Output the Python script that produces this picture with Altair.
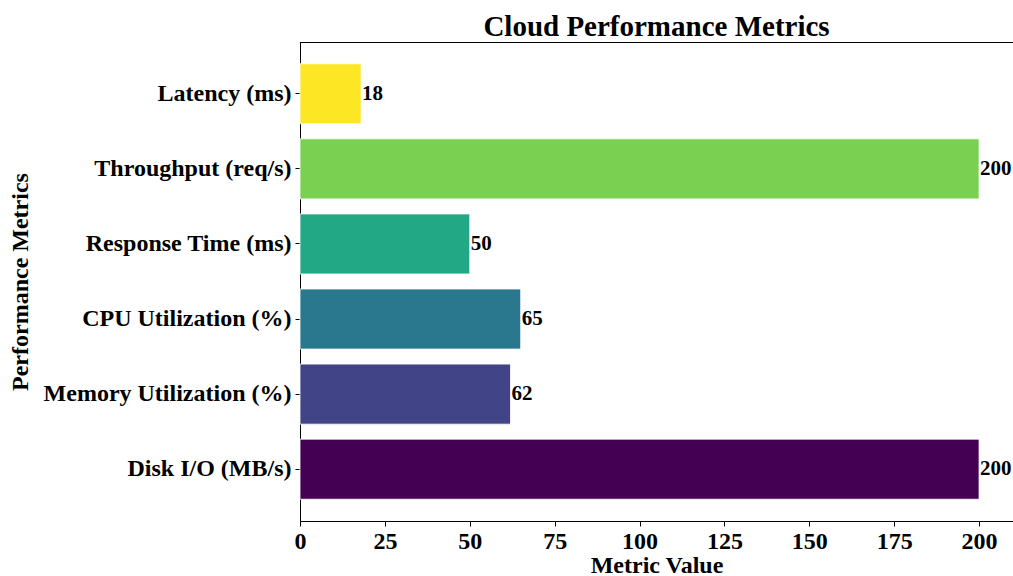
import altair as alt
import pandas as pd

metrics = ["Latency (ms)", "Throughput (req/s)", "Response Time (ms)",
           "CPU Utilization (%)", "Memory Utilization (%)", "Disk I/O (MB/s)"]
values = [18, 200, 50, 65, 62, 200]
colors = ["#fde725", "#7ad151", "#22a884", "#2a788e", "#414487", "#440154"]
x_ticks = [0, 25, 50, 75, 100, 125, 150, 175, 200]

df = pd.DataFrame({"metric": metrics, "value": values, "color": colors})

FONT = "Liberation Serif"
W, H = 713, 479

y_enc = alt.Y("metric:N", sort=metrics, title="Performance Metrics",
              scale=alt.Scale(paddingInner=0.2, paddingOuter=0.29),
              axis=alt.Axis(labelFontSize=24, labelFont=FONT, labelFontWeight="bold",
                            labelColor="black", titleFontSize=24, titleFont=FONT,
                            titleFontWeight="bold", titleColor="black",
                            titleX=-268, titleBaseline="bottom",
                            tickSize=5, tickColor="black", domainColor="black",
                            labelPadding=4, labelLimit=400))
x_enc = alt.X("value:Q", title="Metric Value",
              scale=alt.Scale(domain=[0, 210], nice=False, zero=True),
              axis=alt.Axis(values=x_ticks, labelFontSize=24, labelFont=FONT,
                            labelFontWeight="bold", labelColor="black",
                            titleFontSize=24, titleFont=FONT, titleFontWeight="bold",
                            titleColor="black", titleY=51, titleBaseline="alphabetic",
                            tickSize=5, tickColor="black",
                            domainColor="black", grid=False, labelPadding=3,
                            labelFlush=False))

bars = alt.Chart(df).mark_bar(stroke="white", strokeWidth=0.8).encode(
    y=y_enc, x=x_enc, color=alt.Color("color:N", scale=None)
)

labels = alt.Chart(df).mark_text(align="left", baseline="middle", dx=1,
                                 fontSize=21, font=FONT, fontWeight="bold",
                                 color="black").encode(
    y=alt.Y("metric:N", sort=metrics), x="value:Q", text="value:Q"
)

top_spine = alt.Chart(df).mark_rule(color="black", strokeWidth=1).encode(
    x=alt.value(0), x2=alt.value(W), y=alt.value(0.5)
)

chart = alt.layer(bars, labels, top_spine).properties(
    width=W, height=H,
    title=alt.TitleParams("Cloud Performance Metrics", fontSize=29, font=FONT,
                          fontWeight="bold", color="black", anchor="middle",
                          offset=0),
    autosize=alt.AutoSizeParams(type="none"),
    padding={"left": 300, "top": 42, "right": 0, "bottom": 55},
).configure_view(stroke=None).configure(background="white")

chart.save("out.html", embed_options={"renderer": "svg", "actions": False})
